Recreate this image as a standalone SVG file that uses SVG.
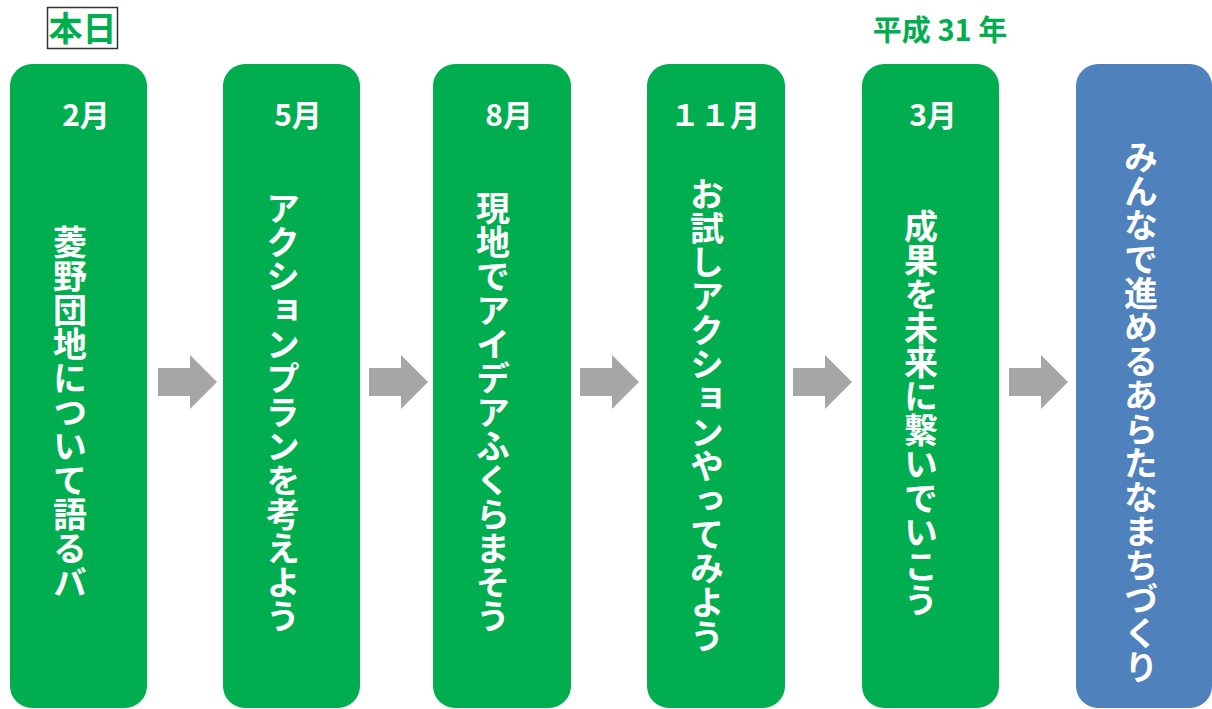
<svg xmlns="http://www.w3.org/2000/svg" width="1212" height="709" viewBox="0 0 1212 709">
<style>
.g{fill:#00AE4F}
.b{fill:#4F81BD}
.arr{fill:#A6A6A6}
.m{font-family:"Noto Sans CJK JP","Noto Sans",sans-serif;font-weight:700;font-size:30px;fill:#fff;text-anchor:middle}
.v{font-family:"Noto Sans CJK JP",sans-serif;font-weight:700;font-size:34px;fill:#fff;writing-mode:vertical-rl;text-anchor:middle}
.h{font-family:"Noto Sans CJK JP",sans-serif;font-weight:700;fill:#00AE4F}
</style>
<defs>
<path id="arrow" d="M0,13 H32 V0 L59,27 L32,54 V41 H0 Z"/>
</defs>
<g id="label-today">
<rect x="47.5" y="7.5" width="70" height="41" fill="#fff" stroke="#333" stroke-width="1.5"/>
<text class="h" x="82.5" y="41" font-size="34" text-anchor="middle">本日</text>
</g>
<g id="label-h31">
<text class="h" x="940" y="41" font-size="29" text-anchor="middle">平成 31 年</text>
</g>
<g id="connectors">
<use href="#arrow" class="arr" x="158" y="355"/>
<use href="#arrow" class="arr" x="369" y="355"/>
<use href="#arrow" class="arr" x="580" y="355"/>
<use href="#arrow" class="arr" x="793" y="355"/>
<use href="#arrow" class="arr" x="1009" y="355"/>
</g>
<g id="node1">
<rect class="g" x="10" y="64" width="137" height="644" rx="22"/>
<text class="m" x="86" y="126">2月</text>
<text class="v" x="70" y="412">菱野団地について語るバ</text>
</g>
<g id="node2">
<rect class="g" x="223" y="64" width="137" height="644" rx="22"/>
<text class="m" x="298" y="126">5月</text>
<text class="v" x="283" y="412">アクションプランを考えよう</text>
</g>
<g id="node3">
<rect class="g" x="433" y="64" width="138" height="644" rx="22"/>
<text class="m" x="509" y="126">8月</text>
<text class="v" x="493" y="412">現地でアイデアふくらまそう</text>
</g>
<g id="node4">
<rect class="g" x="647" y="64" width="138" height="644" rx="22"/>
<text class="m" x="715" y="126">１１月</text>
<text class="v" x="707" y="415">お試しアクションやってみよう</text>
</g>
<g id="node5">
<rect class="g" x="862" y="64" width="137" height="644" rx="22"/>
<text class="m" x="933" y="126">3月</text>
<text class="v" x="921" y="413">成果を未来に繋いでいこう</text>
</g>
<g id="node6">
<rect class="b" x="1076" y="64" width="136" height="644" rx="22"/>
<text class="v" x="1141" y="412">みんなで進めるあらたなまちづくり</text>
</g>
</svg>
